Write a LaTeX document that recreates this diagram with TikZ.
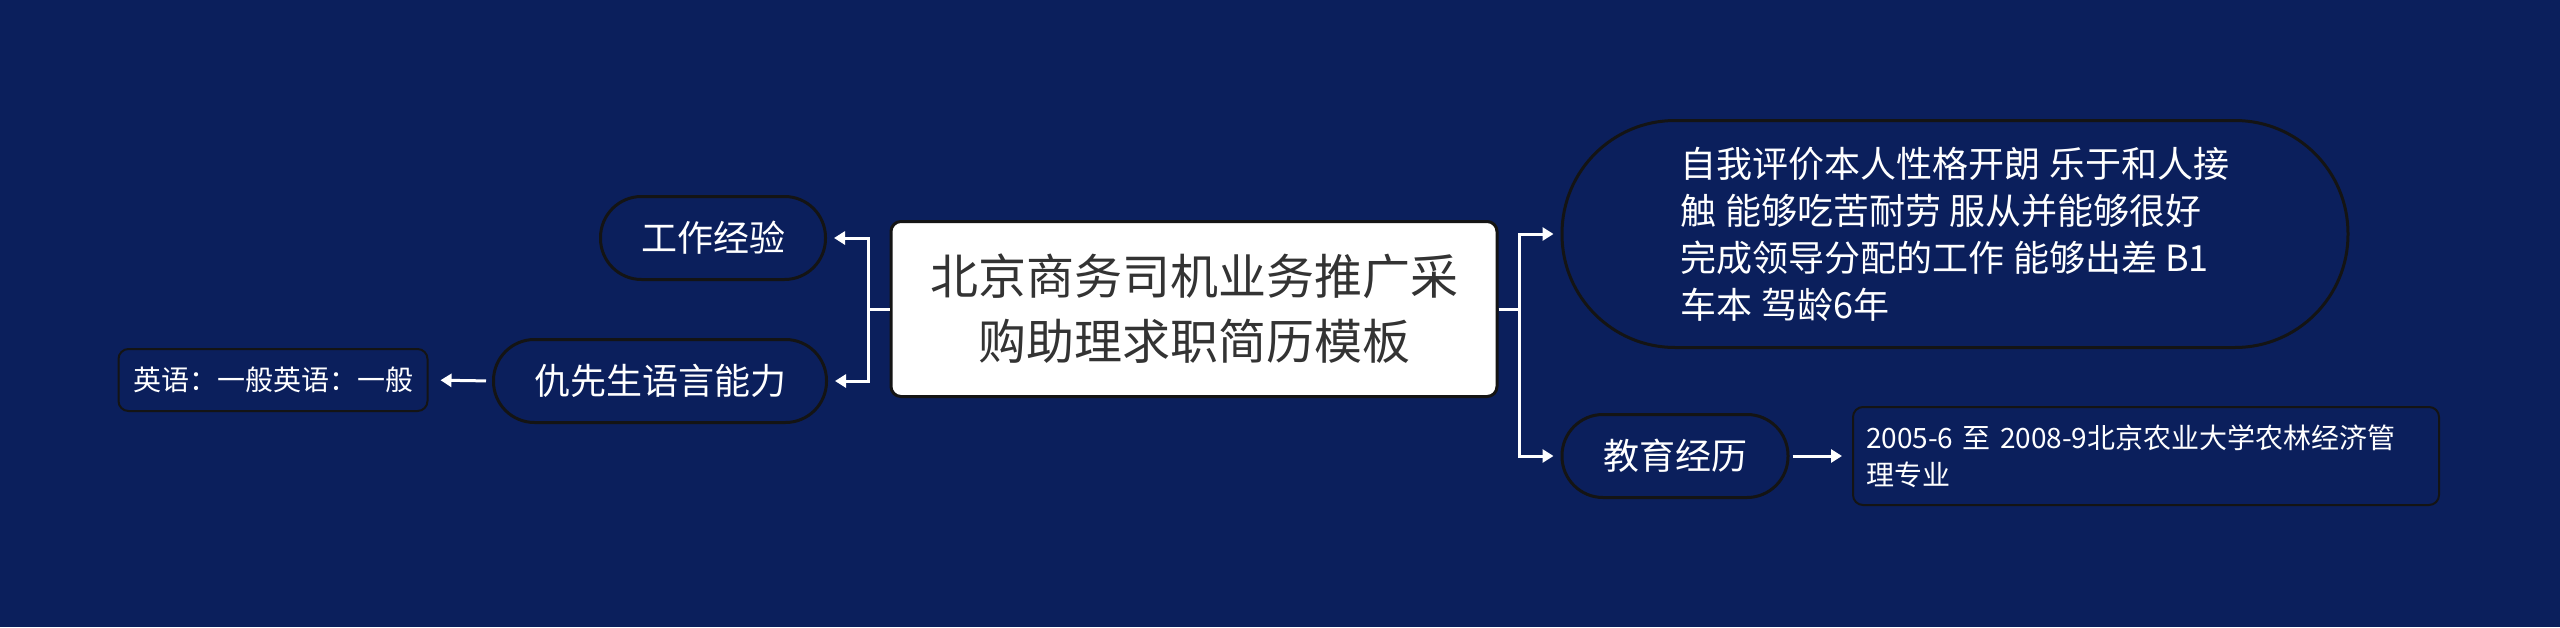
\documentclass[tikz,border=0pt]{standalone}
\usepackage{fontspec}
\setmainfont{Noto Sans CJK SC}
\usetikzlibrary{arrows.meta}
\definecolor{bg}{HTML}{0B1F5C}
\definecolor{edgec}{HTML}{141414}
\definecolor{ctext}{HTML}{333333}
\begin{document}
\begin{tikzpicture}[x=1pt,y=-1pt,
  conn/.style={draw=white,line width=3pt},
  arr/.style={conn,-{Triangle[length=11pt,width=13pt]}},
  central/.style={draw=edgec,line width=3pt,fill=white,text=ctext,rounded corners=10pt,
    inner sep=0pt,align=center,font=\fontsize{48}{65}\selectfont},
  pill/.style={draw=edgec,line width=3pt,fill=bg,text=white,rounded corners=41pt,
    minimum height=83pt,inner sep=0pt,font=\fontsize{36}{47}\selectfont},
  box/.style={draw=edgec,line width=2pt,fill=bg,text=white,rounded corners=10pt,
    inner sep=0pt,font=\fontsize{28}{37}\selectfont},
]
\fill[bg] (0,0) rectangle (2560,627);
\useasboundingbox (0,0) rectangle (2560,627);

\node[central, minimum width=606pt, minimum height=175pt] (c) at (1194,309)
  {北京商务司机业务推广采\\购助理求职简历模板};
\node[pill, minimum width=225pt] (w) at (713,238) {工作经验};
\node[pill, minimum width=333pt] (l) at (660,381) {仇先生语言能力};
\node[box, minimum width=309pt, minimum height=62pt] (e) at (273,380) {英语：一般英语：一般};
\node[pill, minimum width=786pt, minimum height=227pt, rounded corners=113pt, align=left] (s) at (1955,234)
  {自我评价本人性格开朗 乐于和人接\\触 能够吃苦耐劳 服从并能够很好\\完成领导分配的工作 能够出差 B1\\车本 驾龄6年};
\node[pill, minimum width=226pt] (ed) at (1675,456) {教育经历};
\node[box, minimum width=586pt, minimum height=98pt, text width=560pt, align=left] (d) at (2146,456)
  {2005-6 至 2008-9北京农业大学农林经济管\\理专业};

\coordinate (lj) at (868,309);
\coordinate (rj) at (1519,309);
\draw[arr, shorten >=7pt] (c.west) -- (lj) |- (w.east);
\draw[arr, shorten >=7pt] (lj) |- (l.east);
\draw[arr, shorten >=7pt] (c.east) -- (rj) |- (s.west);
\draw[arr, shorten >=7pt] (rj) |- (ed.west);
\draw[arr, shorten >=10pt, shorten <=3pt] (ed.east) -- (d.west);
\draw[arr, shorten >=12pt, shorten <=6pt] (l.west) -- (e.east);
\end{tikzpicture}
\end{document}
